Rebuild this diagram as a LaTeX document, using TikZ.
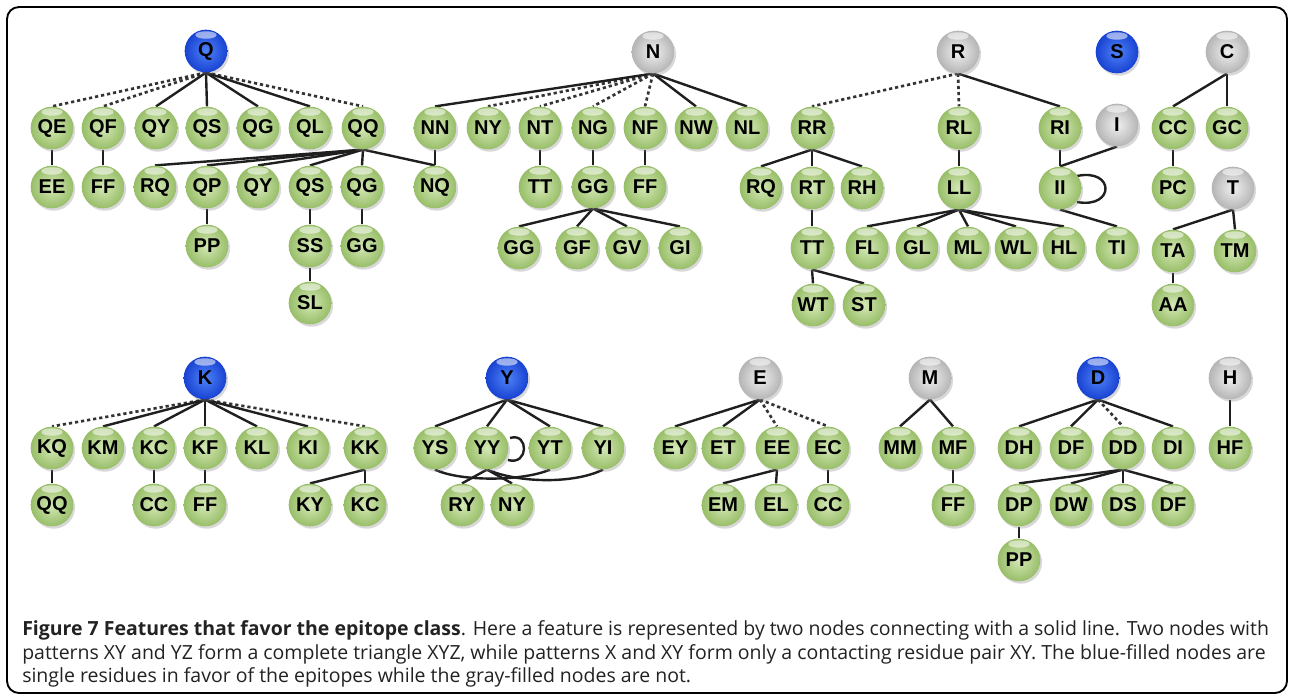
\documentclass[tikz,border=0pt]{standalone}
\usepackage{fontspec}
\newfontfamily\labfont{Liberation Sans}
\newfontfamily\capfont{Open Sans}
\usetikzlibrary{shadows,backgrounds}
\definecolor{gin}{HTML}{D4E8B6}
\definecolor{gout}{HTML}{98BE68}
\definecolor{bin}{HTML}{4F82F7}
\definecolor{bout}{HTML}{1842D2}
\definecolor{yin}{HTML}{F0F0F0}
\definecolor{yout}{HTML}{B5B5B5}
\definecolor{captxt}{HTML}{222222}
\newlength\capw
\newcommand\capone{\textbf{Figure 7 Features that favor the epitope class}. Here a feature is represented by two nodes connecting with a solid line. Two nodes with}
\begin{document}
\settowidth\capw{\capfont\fontsize{14}{17}\selectfont\capone}%
\pgfmathsetmacro\capscale{935/\capw}%
\begin{tikzpicture}[x=0.75pt,y=-0.75pt,
  ball/.style={circle, inner sep=0pt, minimum size=32pt,
    font=\labfont\bfseries\fontsize{15}{15}\selectfont, text=black,
    drop shadow={opacity=0.3, shadow xshift=1.3pt, shadow yshift=-1.8pt},
    path picture={\fill[white,opacity=0.55] ([yshift=-4pt]path picture bounding box.north) ellipse (8pt and 2.8pt);}},
  gn/.style={ball, inner color=gin, outer color=gout},
  bl/.style={ball, inner color=bin, outer color=bout},
  gy/.style={ball, inner color=yin, outer color=yout},
  sol/.style={line width=1.8pt, draw=black!88},
  dsh/.style={line width=2pt, draw=black!80, dash pattern=on 2.4pt off 2.2pt},
  capline/.style={anchor=base west, inner sep=0pt, text=captxt, font=\capfont\fontsize{14}{17}\selectfont}
]
\useasboundingbox (0,0) rectangle (1289,696);

% ---------- Q tree
\node[bl] (Q) at (206,51) {Q};
\node[gn] (QE) at (52,128) {QE};
\node[gn] (QF) at (103,128) {QF};
\node[gn] (QY1) at (156,128) {QY};
\node[gn] (QS1) at (207,128) {QS};
\node[gn] (QG1) at (258,128) {QG};
\node[gn] (QL) at (310,128) {QL};
\node[gn] (QQ) at (363,128) {QQ};
\node[gn] (EE) at (52,187) {EE};
\node[gn] (FF1) at (103,187) {FF};
\node[gn] (RQ1) at (155,187) {RQ};
\node[gn] (QP) at (207,187) {QP};
\node[gn] (QY2) at (258,187) {QY};
\node[gn] (QS2) at (310,187) {QS};
\node[gn] (QG2) at (362,187) {QG};
\node[gn] (NQ) at (435,187) {NQ};
\node[gn] (PP1) at (207,246) {PP};
\node[gn] (SS) at (310,246) {SS};
\node[gn] (GG1) at (362,246) {GG};
\node[gn] (SL) at (310,303) {SL};
% ---------- N tree
\node[gy] (N) at (653,52) {N};
\node[gn] (NN) at (435,128) {NN};
\node[gn] (NY1) at (488,128) {NY};
\node[gn] (NT) at (540,128) {NT};
\node[gn] (NG) at (593,128) {NG};
\node[gn] (NF) at (645,128) {NF};
\node[gn] (NW) at (696,128) {NW};
\node[gn] (NL) at (747,128) {NL};
\node[gn] (TT1) at (540,187) {TT};
\node[gn] (GG2) at (593,187) {GG};
\node[gn] (FF2) at (645,187) {FF};
\node[gn] (GG3) at (519,248) {GG};
\node[gn] (GF) at (577,248) {GF};
\node[gn] (GV) at (627,248) {GV};
\node[gn] (GI) at (680,248) {GI};
% ---------- R tree
\node[gy] (R) at (958,52) {R};
\node[gn] (RR) at (812,128) {RR};
\node[gn] (RL) at (959,128) {RL};
\node[gn] (RI) at (1060,128) {RI};
\node[gn] (RQ2) at (761,188) {RQ};
\node[gn] (RT) at (812,188) {RT};
\node[gn] (RH) at (862,188) {RH};
\node[gn] (LL) at (959,188) {LL};
\node[gn] (II) at (1060,188) {II};
\node[gn] (TT2) at (812,248) {TT};
\node[gn] (FL) at (867,248) {FL};
\node[gn] (GL) at (917,248) {GL};
\node[gn] (ML) at (968,248) {ML};
\node[gn] (WL) at (1016,248) {WL};
\node[gn] (HL) at (1064,248) {HL};
\node[gn] (TI) at (1117,248) {TI};
\node[gn] (WT) at (813,305) {WT};
\node[gn] (ST) at (864,305) {ST};
\node[bl] (S) at (1117,52) {S};
\node[gy] (I) at (1117,125) {I};
\node[gy] (C) at (1227,52) {C};
\node[gn] (CC1) at (1173,128) {CC};
\node[gn] (GC) at (1227,128) {GC};
\node[gn] (PC) at (1173,188) {PC};
\node[gy] (T) at (1233,188) {T};
\node[gn] (TA) at (1173,251) {TA};
\node[gn] (TM) at (1235,251) {TM};
\node[gn] (AA) at (1173,305) {AA};
% ---------- K tree
\node[bl] (K) at (205,378) {K};
\node[gn] (KQ) at (52,448) {KQ};
\node[gn] (KM) at (103,448) {KM};
\node[gn] (KC1) at (154,448) {KC};
\node[gn] (KF) at (205,448) {KF};
\node[gn] (KL) at (257,448) {KL};
\node[gn] (KI) at (308,448) {KI};
\node[gn] (KK) at (365,448) {KK};
\node[gn] (QQ2) at (52,505) {QQ};
\node[gn] (CC2) at (154,505) {CC};
\node[gn] (FF3) at (205,505) {FF};
\node[gn] (KY) at (310,505) {KY};
\node[gn] (KC2) at (365,505) {KC};
% ---------- Y tree
\node[bl] (Y) at (507,378) {Y};
\node[gn] (YS) at (435,448) {YS};
\node[gn] (YY) at (487,448) {YY};
\node[gn] (YT) at (550,448) {YT};
\node[gn] (YI) at (603,448) {YI};
\node[gn] (RY) at (462,505) {RY};
\node[gn] (NY2) at (512,505) {NY};
% ---------- E tree
\node[gy] (E) at (760,378) {E};
\node[gn] (EY) at (675,448) {EY};
\node[gn] (ET) at (723,448) {ET};
\node[gn] (EE2) at (777,448) {EE};
\node[gn] (EC) at (828,448) {EC};
\node[gn] (EM) at (723,505) {EM};
\node[gn] (EL) at (776,505) {EL};
\node[gn] (CC3) at (828,505) {CC};
% ---------- M tree
\node[gy] (M) at (930,378) {M};
\node[gn] (MM) at (900,448) {MM};
\node[gn] (MF) at (953,448) {MF};
\node[gn] (FF4) at (953,505) {FF};
% ---------- D tree
\node[bl] (D) at (1098,378) {D};
\node[gn] (DH) at (1019,448) {DH};
\node[gn] (DF1) at (1071,448) {DF};
\node[gn] (DD) at (1123,448) {DD};
\node[gn] (DI) at (1173,448) {DI};
\node[gn] (DP) at (1019,505) {DP};
\node[gn] (DW) at (1071,505) {DW};
\node[gn] (DS) at (1123,505) {DS};
\node[gn] (DF2) at (1173,505) {DF};
\node[gn] (PP2) at (1019,560) {PP};
% ---------- H
\node[gy] (H) at (1230,378) {H};
\node[gn] (HF) at (1230,448) {HF};

\begin{pgfonlayer}{background}
\fill[white] (0,0) rectangle (1289,696);
\foreach \a/\b in {Q/QE,Q/QF,Q/QQ,N/NY1,N/NT,N/NG,N/NF,R/RR,R/RL,K/KQ,K/KK,E/EE2,E/EC,D/DD}
  \draw[dsh] (\a.south) -- (\b.north);
\foreach \a/\b in {Q/QY1,Q/QS1,Q/QG1,Q/QL,QE/EE,QF/FF1,QQ/RQ1,QQ/QP,QQ/QY2,QQ/QS2,QQ/QG2,QQ/NQ,
  QP/PP1,QS2/SS,SS/SL,QG2/GG1,
  N/NN,N/NW,N/NL,NN/NQ,NT/TT1,NG/GG2,NF/FF2,GG2/GG3,GG2/GF,GG2/GV,GG2/GI,
  R/RI,RR/RQ2,RR/RT,RR/RH,RT/TT2,TT2/WT,TT2/ST,RL/LL,LL/FL,LL/GL,LL/ML,LL/WL,LL/HL,
  RI/II,I/II,II/TI,C/CC1,C/GC,CC1/PC,T/TA,T/TM,TA/AA,
  K/KM,K/KC1,K/KF,K/KL,K/KI,KQ/QQ2,KC1/CC2,KF/FF3,KK/KY,KK/KC2,
  Y/YS,Y/YY,Y/YT,Y/YI,YY/RY,YY/NY2,
  E/EY,E/ET,EE2/EM,EE2/EL,EC/CC3,
  M/MM,M/MF,MF/FF4,
  D/DH,D/DF1,D/DI,DD/DP,DD/DW,DD/DS,DD/DF2,DP/PP2,H/HF}
  \draw[sol] (\a.south) -- (\b.north);
\draw[sol] ([shift={(17,-12)}]II.center) .. controls +(38,-8) and +(38,7) .. ([shift={(17,14)}]II.center);
\draw[sol] ([shift={(23,-10)}]YY.center) .. controls +(19,-6) and +(21,6) .. ([shift={(21,12)}]YY.center);
\draw[sol] (YS.south) .. controls +(25,12) and +(-28,12) .. (YT.south);
\draw[sol] (YY.south) .. controls +(33,14) and +(-28,14) .. (YI.south);
\end{pgfonlayer}

\draw[line width=1.4pt, rounded corners=9pt] (7,7) rectangle (1287,693);

% ---------- caption
\node[capline, scale=\capscale] (cap1) at (22,635) {\capone};
\node[capline, scale=\capscale] (cap2) at (22,659) {patterns XY and YZ form a complete triangle XYZ, while patterns X and XY form only a contacting residue pair XY. The blue-filled nodes are};
\node[capline, scale=\capscale] (cap3) at (22,682) {single residues in favor of the epitopes while the gray-filled nodes are not.};
\end{tikzpicture}
\end{document}
